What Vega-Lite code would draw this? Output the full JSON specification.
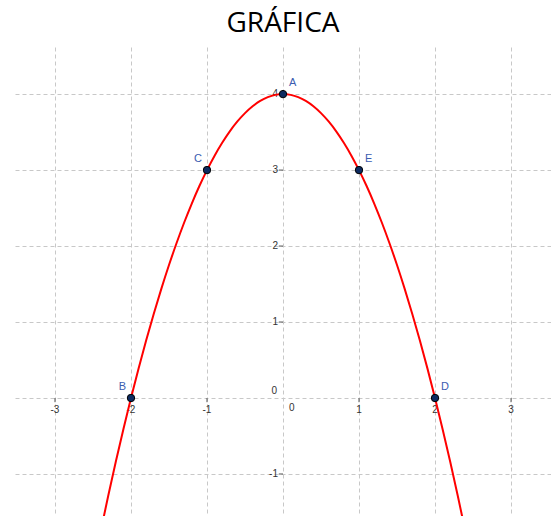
{
  "$schema": "https://vega.github.io/schema/vega-lite/v6.json",
  "width": 536,
  "height": 469,
  "autosize": {"type": "none"},
  "padding": {"left": 15, "top": 47, "right": 0, "bottom": 0},
  "background": "white",
  "title": {"text": "GRÁFICA", "font": "Open Sans", "fontSize": 28, "fontWeight": "normal", "color": "#000000", "anchor": "middle", "frame": "group", "baseline": "alphabetic", "offset": 14, "dy": 27},
  "config": {"view": {"stroke": null}},
  "datasets": {
    "curve": [
      {"x": -2.4, "y": -1.76}, {"x": -2.3, "y": -1.29}, {"x": -2.2, "y": -0.84}, {"x": -2.1, "y": -0.41},
      {"x": -2.0, "y": 0}, {"x": -1.9, "y": 0.39}, {"x": -1.8, "y": 0.76}, {"x": -1.7, "y": 1.11},
      {"x": -1.6, "y": 1.44}, {"x": -1.5, "y": 1.75}, {"x": -1.4, "y": 2.04}, {"x": -1.3, "y": 2.31},
      {"x": -1.2, "y": 2.56}, {"x": -1.1, "y": 2.79}, {"x": -1.0, "y": 3}, {"x": -0.9, "y": 3.19},
      {"x": -0.8, "y": 3.36}, {"x": -0.7, "y": 3.51}, {"x": -0.6, "y": 3.64}, {"x": -0.5, "y": 3.75},
      {"x": -0.4, "y": 3.84}, {"x": -0.3, "y": 3.91}, {"x": -0.2, "y": 3.96}, {"x": -0.1, "y": 3.99},
      {"x": 0, "y": 4},
      {"x": 0.1, "y": 3.99}, {"x": 0.2, "y": 3.96}, {"x": 0.3, "y": 3.91}, {"x": 0.4, "y": 3.84},
      {"x": 0.5, "y": 3.75}, {"x": 0.6, "y": 3.64}, {"x": 0.7, "y": 3.51}, {"x": 0.8, "y": 3.36},
      {"x": 0.9, "y": 3.19}, {"x": 1.0, "y": 3}, {"x": 1.1, "y": 2.79}, {"x": 1.2, "y": 2.56},
      {"x": 1.3, "y": 2.31}, {"x": 1.4, "y": 2.04}, {"x": 1.5, "y": 1.75}, {"x": 1.6, "y": 1.44},
      {"x": 1.7, "y": 1.11}, {"x": 1.8, "y": 0.76}, {"x": 1.9, "y": 0.39}, {"x": 2.0, "y": 0},
      {"x": 2.1, "y": -0.41}, {"x": 2.2, "y": -0.84}, {"x": 2.3, "y": -1.29}, {"x": 2.4, "y": -1.76}
    ],
    "pts": [
      {"label": "A", "x": 0, "y": 4, "side": "right"},
      {"label": "B", "x": -2, "y": 0, "side": "left"},
      {"label": "C", "x": -1, "y": 3, "side": "left"},
      {"label": "D", "x": 2, "y": 0, "side": "right"},
      {"label": "E", "x": 1, "y": 3, "side": "right"}
    ],
    "xt": [
      {"v": -3, "t": "-3"}, {"v": -2, "t": "-2"}, {"v": -1, "t": "-1"},
      {"v": 1, "t": "1"}, {"v": 2, "t": "2"}, {"v": 3, "t": "3"}
    ],
    "yt": [
      {"v": -1, "t": "-1"}, {"v": 1, "t": "1"}, {"v": 2, "t": "2"}, {"v": 3, "t": "3"}, {"v": 4, "t": "4"}
    ],
    "zero": [{"v": 0, "t": "0"}]
  },
  "layer": [
    {
      "data": {"name": "xt"},
      "mark": {"type": "rule", "color": "#555555", "strokeWidth": 1},
      "encoding": {
        "x": {"field": "v", "type": "quantitative",
          "scale": {"domain": [-3.526, 3.526], "nice": false, "zero": false},
          "axis": {"title": null, "labels": false, "ticks": false, "domain": false, "values": [-3, -2, -1, 0, 1, 2, 3], "grid": true, "gridColor": "#c8c8c8", "gridDash": [4, 3], "gridWidth": 1}},
        "y": {"datum": 0, "type": "quantitative",
          "scale": {"domain": [-1.553, 4.62], "nice": false, "zero": false},
          "axis": {"title": null, "labels": false, "ticks": false, "domain": false, "values": [-1, 0, 1, 2, 3, 4], "grid": true, "gridColor": "#c8c8c8", "gridDash": [4, 3], "gridWidth": 1}},
        "y2": {"datum": -0.055}
      }
    },
    {
      "data": {"name": "yt"},
      "mark": {"type": "rule", "color": "#555555", "strokeWidth": 1},
      "encoding": {
        "y": {"field": "v", "type": "quantitative"},
        "x": {"datum": 0},
        "x2": {"datum": -0.055}
      }
    },
    {
      "mark": {"type": "rule", "color": "#666666", "strokeWidth": 1.6},
      "encoding": {"x": {"datum": 0}}
    },
    {
      "mark": {"type": "rule", "color": "#666666", "strokeWidth": 1.6},
      "encoding": {"y": {"datum": 0}}
    },
    {
      "data": {"name": "xt"},
      "mark": {"type": "text", "font": "Liberation Sans", "fontSize": 10, "color": "#333333", "align": "center", "baseline": "middle", "dy": 12},
      "encoding": {
        "x": {"field": "v", "type": "quantitative"},
        "y": {"datum": 0},
        "text": {"field": "t"}
      }
    },
    {
      "data": {"name": "yt"},
      "mark": {"type": "text", "font": "Liberation Sans", "fontSize": 10, "color": "#333333", "align": "right", "baseline": "middle", "dx": -5},
      "encoding": {
        "y": {"field": "v", "type": "quantitative"},
        "x": {"datum": 0},
        "text": {"field": "t"}
      }
    },
    {
      "data": {"name": "zero"},
      "mark": {"type": "text", "font": "Liberation Sans", "fontSize": 10, "color": "#333333", "align": "right", "baseline": "middle", "dx": -6, "dy": -7},
      "encoding": {
        "x": {"field": "v", "type": "quantitative"},
        "y": {"field": "v", "type": "quantitative"},
        "text": {"field": "t"}
      }
    },
    {
      "data": {"name": "zero"},
      "mark": {"type": "text", "font": "Liberation Sans", "fontSize": 10, "color": "#333333", "align": "left", "baseline": "middle", "dx": 6, "dy": 10},
      "encoding": {
        "x": {"field": "v", "type": "quantitative"},
        "y": {"field": "v", "type": "quantitative"},
        "text": {"field": "t"}
      }
    },
    {
      "data": {"name": "curve"},
      "mark": {"type": "line", "color": "#ff0000", "strokeWidth": 2, "interpolate": "natural", "clip": true},
      "encoding": {
        "x": {"field": "x", "type": "quantitative"},
        "y": {"field": "y", "type": "quantitative"}
      }
    },
    {
      "data": {"name": "pts"},
      "mark": {"type": "point", "filled": true, "size": 55, "fill": "#0d2b60", "stroke": "#000000", "strokeWidth": 1, "opacity": 1},
      "encoding": {
        "x": {"field": "x", "type": "quantitative"},
        "y": {"field": "y", "type": "quantitative"}
      }
    },
    {
      "data": {"name": "pts"},
      "transform": [{"filter": "datum.side == 'right'"}],
      "mark": {"type": "text", "font": "Liberation Sans", "fontSize": 11, "color": "#3a5cb0", "align": "left", "baseline": "middle", "dx": 6, "dy": -11},
      "encoding": {
        "x": {"field": "x", "type": "quantitative"},
        "y": {"field": "y", "type": "quantitative"},
        "text": {"field": "label"}
      }
    },
    {
      "data": {"name": "pts"},
      "transform": [{"filter": "datum.side == 'left'"}],
      "mark": {"type": "text", "font": "Liberation Sans", "fontSize": 11, "color": "#3a5cb0", "align": "right", "baseline": "middle", "dx": -5, "dy": -11},
      "encoding": {
        "x": {"field": "x", "type": "quantitative"},
        "y": {"field": "y", "type": "quantitative"},
        "text": {"field": "label"}
      }
    }
  ]
}
